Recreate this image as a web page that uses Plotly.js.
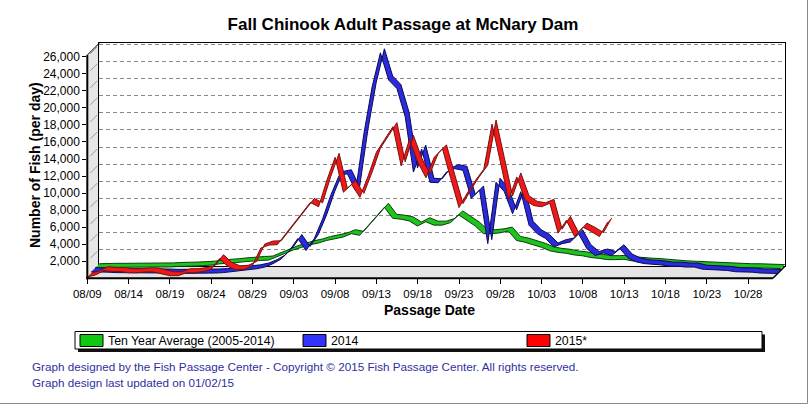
<!DOCTYPE html>
<html><head><meta charset="utf-8">
<script src="https://cdn.plot.ly/plotly-3.0.1.min.js"></script>
<style>html,body{margin:0;padding:0;background:#fff;} #chart{width:810px;height:405px;}</style>
</head><body><div id="chart"></div>
<script>
// ---------------- data ----------------
// day offsets from 08/09 (day 0) through 10/31 (day 83)
const days = Array.from({length: 84}, (_, i) => i);
const tickDays   = [0,5,10,15,20,25,30,35,40,45,50,55,60,65,70,75,80];
const tickLabels = ['08/09','08/14','08/19','08/24','08/29','09/03','09/08','09/13','09/18','09/23','09/28','10/03','10/08','10/13','10/18','10/23','10/28'];
const yTicks = [2000,4000,6000,8000,10000,12000,14000,16000,18000,20000,22000,24000,26000];

const seriesNames = ['Ten Year Average (2005-2014)', '2014', '2015*'];

const tenYearAvg = [300,350,350,350,350,350,350,400,400,400,450,450,500,550,600,750,800,900,1000,1100,
  1150,1200,1600,2000,2400,2700,3000,3200,3500,3700,3900,4300,4100,5200,6300,7400,6100,6000,5800,5200,
  5700,5300,5300,5600,6500,5800,5200,4300,4300,4400,4600,3500,3300,3000,2700,2300,2100,2000,1800,1700,
  1500,1400,1250,1250,1300,1100,1000,950,900,800,750,650,600,550,500,500,450,400,350,300,
  300,250,200,200];

const y2014 = [300,300,250,200,200,200,200,200,200,150,100,100,100,100,150,150,200,300,400,500,
  650,850,1250,1800,2800,4200,2800,4200,6500,9300,11600,11800,9800,16500,22000,26000,22800,21800,18500,12000,
  14700,10800,10750,12000,12400,12200,8900,9900,3600,10800,9700,7100,9700,5750,4750,4200,3200,3600,3800,4750,
  3000,2200,2500,2200,3000,1900,1450,1250,1200,1100,950,950,850,850,600,550,500,450,300,300,
  250,150,100,100];

const y2015 = [150,400,900,800,800,650,650,750,750,550,300,300,650,650,800,1050,2300,1400,1000,1050,
  1500,3550,3900,3950,5200,6400,7600,8900,8400,11500,14200,10100,11000,9500,12000,14800,16300,17800,13200,16300,
  13650,11800,14200,15200,11700,8300,10000,11500,12800,18100,13700,9200,11900,9200,8550,8400,8800,5300,6800,4900,
  6000,5500,4900,6600];

// ---------------- geometry / style ----------------
const W = 810, H = 405;
const X0 = 87.3, Y0 = 278.3;          // front-plane origin in px
const PX_DAY = 8.26, PX_FISH = 8.52 / 1000;
const DEPTH = 12, ROW = 4;             // 3D depth, per-series ribbon depth
const WALL_TOP = 26200;
const FONT = 'Arial, "Liberation Sans", sans-serif';
const lastDay = days[days.length - 1];
const frontRight = X0 + lastDay * PX_DAY;
const frontTop = Y0 - WALL_TOP * PX_FISH;
const px = x => x / W, py = y => 1 - y / H;
const pathPx = pts => 'M' + pts.map(p => px(p[0]).toFixed(5) + ',' + py(p[1]).toFixed(5)).join('L') + 'Z';

function ribbon(vals, row, fill, edge) {
  const f = row * ROW, b = (row + 1) * ROW;
  const xs = vals.map((v, i) => days[i]);
  const front = {
    type: 'scatter', mode: 'lines', xaxis: 'x2', yaxis: 'y2', hoverinfo: 'skip', showlegend: false,
    x: xs.map(x => x + f / PX_DAY), y: vals.map(v => v + f / PX_FISH),
    line: {color: edge, width: 1}
  };
  const back = {
    type: 'scatter', mode: 'lines', xaxis: 'x2', yaxis: 'y2', hoverinfo: 'skip', showlegend: false,
    x: xs.map(x => x + b / PX_DAY), y: vals.map(v => v + b / PX_FISH),
    line: {color: edge, width: 1}, fill: 'tonexty', fillcolor: fill
  };
  return [front, back];
}

const traces = [
  {type: 'scatter', x: [], y: [], xaxis: 'x', yaxis: 'y', hoverinfo: 'skip', showlegend: false},
  ...ribbon(tenYearAvg, 2, '#1ec31e', '#0b3f0b'),
  ...ribbon(y2014, 1, '#2b2bdc', '#0a0a5a'),
  ...ribbon(y2015, 0, '#f01818', '#761212')
];

const shapes = [];
// side wall and floor
shapes.push({type: 'path', xref: 'paper', yref: 'paper', layer: 'below',
  path: pathPx([[X0, Y0], [X0, frontTop], [X0 + DEPTH, frontTop - DEPTH], [X0 + DEPTH, Y0 - DEPTH]]),
  fillcolor: '#e6e6e6', line: {width: 0}});
shapes.push({type: 'path', xref: 'paper', yref: 'paper', layer: 'below',
  path: pathPx([[X0, Y0], [X0 + DEPTH, Y0 - DEPTH], [frontRight + DEPTH, Y0 - DEPTH], [frontRight, Y0]]),
  fillcolor: '#e4e4e4', line: {width: 0}});
// side-wall tick diagonals
yTicks.forEach(v => {
  const yy = Y0 - v * PX_FISH;
  shapes.push({type: 'line', xref: 'paper', yref: 'paper', layer: 'below',
    x0: px(X0 + 3), y0: py(yy - 3), x1: px(X0 + DEPTH - 2), y1: py(yy - DEPTH + 2),
    line: {color: '#9a9a9a', width: 1}});
});
// front axis lines and depth edges
shapes.push({type: 'line', xref: 'paper', yref: 'paper', x0: px(X0), y0: py(frontTop), x1: px(X0), y1: py(Y0 + 1), line: {color: '#000', width: 2}});
shapes.push({type: 'line', xref: 'paper', yref: 'paper', x0: px(X0 - 1), y0: py(Y0), x1: px(frontRight), y1: py(Y0), line: {color: '#000', width: 2}});
shapes.push({type: 'line', xref: 'paper', yref: 'paper', x0: px(X0), y0: py(frontTop), x1: px(X0 + DEPTH), y1: py(frontTop - DEPTH), line: {color: '#000', width: 1}});
shapes.push({type: 'line', xref: 'paper', yref: 'paper', x0: px(frontRight), y0: py(Y0), x1: px(frontRight + DEPTH), y1: py(Y0 - DEPTH), line: {color: '#000', width: 1.5}});

// legend box
const LG = {x0: 75, x1: 762, y0: 331.5, y1: 349};
shapes.push({type: 'rect', xref: 'paper', yref: 'paper', x0: px(LG.x0 + 3), x1: px(LG.x1 + 3), y0: py(LG.y0 + 3), y1: py(LG.y1 + 3), fillcolor: '#111', line: {width: 0}});
shapes.push({type: 'rect', xref: 'paper', yref: 'paper', x0: px(LG.x0), x1: px(LG.x1), y0: py(LG.y0), y1: py(LG.y1), fillcolor: '#fff', line: {color: '#000', width: 1}});
const swatchX = [80, 303, 527];
const swatchCol = ['#10c810', '#3333ff', '#ff0000'];
const annotations = [];
seriesNames.forEach((n, i) => {
  shapes.push({type: 'rect', xref: 'paper', yref: 'paper', x0: px(swatchX[i]), x1: px(swatchX[i] + 23), y0: py(334.5), y1: py(346.5), fillcolor: swatchCol[i], line: {color: '#000', width: 1}});
  annotations.push({xref: 'paper', yref: 'paper', x: px(swatchX[i] + 26), y: py(340.5), xanchor: 'left', yanchor: 'middle', showarrow: false, text: n, font: {family: FONT, size: 12.3, color: '#000'}});
});
// image frame (right & bottom)
shapes.push({type: 'line', xref: 'paper', yref: 'paper', x0: px(807.5), x1: px(807.5), y0: py(0), y1: py(403.5), line: {color: '#8a8a8a', width: 1}});
shapes.push({type: 'line', xref: 'paper', yref: 'paper', x0: px(0), x1: px(807.5), y0: py(403.5), y1: py(403.5), line: {color: '#8a8a8a', width: 1}});

annotations.push({xref: 'paper', yref: 'paper', x: px(35), y: py(165), textangle: -90, showarrow: false, xanchor: 'center', yanchor: 'middle',
  text: '<b>Number of Fish (per day)</b>', font: {family: FONT, size: 14, color: '#000'}});
annotations.push({xref: 'paper', yref: 'paper', x: px(429), y: py(310), showarrow: false, xanchor: 'center', yanchor: 'middle',
  text: '<b>Passage Date</b>', font: {family: FONT, size: 14, color: '#000'}});
annotations.push({xref: 'paper', yref: 'paper', x: px(30), y: py(366), showarrow: false, xanchor: 'left', yanchor: 'middle',
  text: 'Graph designed by the Fish Passage Center - Copyright © 2015 Fish Passage Center. All rights reserved.', font: {family: FONT, size: 11.7, color: '#2f2fa0'}});
annotations.push({xref: 'paper', yref: 'paper', x: px(30), y: py(382), showarrow: false, xanchor: 'left', yanchor: 'middle',
  text: 'Graph design last updated on 01/02/15', font: {family: FONT, size: 11.7, color: '#2f2fa0'}});

const layout = {
  width: W, height: H, margin: {l: 0, r: 0, t: 0, b: 0},
  paper_bgcolor: '#fff', plot_bgcolor: 'rgba(0,0,0,0)',
  showlegend: false,
  font: {family: FONT, color: '#000'},
  title: {text: '<b>Fall Chinook Adult Passage at McNary Dam</b>', font: {family: FONT, size: 17, color: '#000'},
    xref: 'container', yref: 'container', x: 403 / W, xanchor: 'center', y: 1 - 24 / H, yanchor: 'middle'},
  // back wall
  xaxis: {domain: [px(X0 + DEPTH), px(frontRight + DEPTH)], range: [0, lastDay], anchor: 'y',
    showgrid: false, zeroline: false, showticklabels: false, ticks: '', showline: true, mirror: true, linecolor: '#000', linewidth: 1},
  yaxis: {domain: [py(Y0 - DEPTH), py(frontTop - DEPTH)], range: [0, WALL_TOP], anchor: 'x',
    tickmode: 'array', tickvals: yTicks, showgrid: true, gridcolor: '#8a8a8a', griddash: '4px,3px', gridwidth: 1,
    zeroline: false, showticklabels: false, ticks: '', showline: true, mirror: true, linecolor: '#000', linewidth: 1},
  // front plane
  xaxis2: {domain: [px(X0), px(frontRight + DEPTH)], range: [0, lastDay + DEPTH / PX_DAY], anchor: 'y2',
    tickmode: 'array', tickvals: tickDays, ticktext: tickLabels, ticks: 'outside', ticklen: 5, tickcolor: '#000', tickwidth: 1,
    showgrid: false, zeroline: false, showline: false, tickfont: {family: FONT, size: 11.5, color: '#000'}},
  yaxis2: {domain: [py(Y0), py(frontTop - DEPTH)], range: [0, (Y0 - frontTop + DEPTH) / PX_FISH], anchor: 'x2',
    tickmode: 'array', tickvals: yTicks, tickformat: ',d', ticks: 'outside', ticklen: 4, tickcolor: '#000', tickwidth: 1,
    showgrid: false, zeroline: false, showline: false, tickfont: {family: FONT, size: 12, color: '#000'}},
  shapes: shapes,
  annotations: annotations
};

Plotly.newPlot('chart', traces, layout, {staticPlot: true, displayModeBar: false});
</script>
</body></html>
